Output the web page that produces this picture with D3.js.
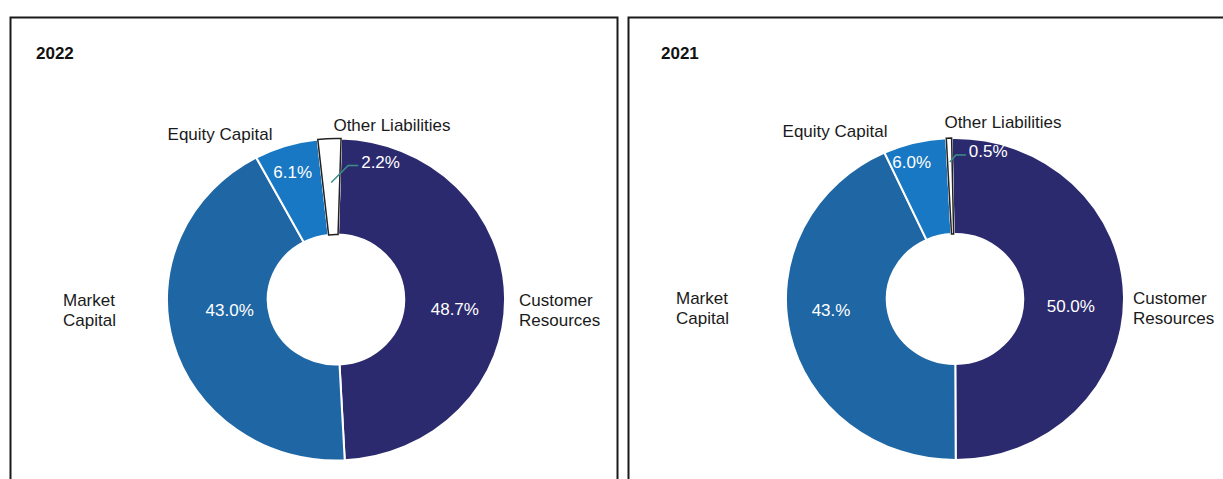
<!DOCTYPE html>
<html>
<head>
<meta charset="utf-8">
<script src="https://cdn.jsdelivr.net/npm/d3@7"></script>
<style>
    body { margin: 0; background: #fff; }
    svg { display: block; font-family: "Liberation Sans", Arial, sans-serif; }
</style>
</head>
<body>
<div class="canvas"></div>
<script>
// Data
const categories = ['Customer Resources', 'Market Capital', 'Equity Capital', 'Other Liabilities'];
const years = ['2022', '2021'];
const values2022 = [48.7, 43.0, 6.1, 2.2];
const values2021 = [50.0, 43.0, 6.0, 0.5];
const labels2022 = ['48.7%', '43.0%', '6.1%', '2.2%'];
const labels2021 = ['50.0%', '43.%', '6.0%', '0.5%'];
const colors = ['#2c2a6e', '#1f66a4', '#1878c3', '#ffffff'];

// Layout of each panel
const panels = [
    {
        year: years[0], values: values2022, labels: labels2022,
        box: [10.5, 17.5, 607, 480], titleX: 36, cx: 336, cy: 299.5, rot: 0.03,
        nudge: [[-4, 11], [12, -21], [-7, -16]],
        callout: { r: 117, bend: [17, -17], len: 10 },
        names: [[519, 300, 'start'], [63, 300, 'start'], [220, 134, 'middle'], [392, 125, 'middle']]
    },
    {
        year: years[1], values: values2021, labels: labels2021,
        box: [628.5, 17.5, 640, 480], titleX: 661, cx: 955, cy: 299, rot: -0.02,
        nudge: [[-7, 8], [-4, -14], [-14, -23]],
        callout: { r: 137, bend: [6, -7], len: 10 },
        names: [[1133, 298, 'start'], [676, 298, 'start'], [835, 131, 'middle'], [1003, 122, 'middle']]
    }
];

const dims = { width: 1223, height: 479, outer: 161, inner: 65, sx: 1.05, labelR: 117, font: 17 };

const svg = d3.select('.canvas')
    .append('svg')
    .attr('width', dims.width)
    .attr('height', dims.height);

const pie = d3.pie().sort(null).value(d => d);
const arc = d3.arc().innerRadius(dims.inner).outerRadius(dims.outer);

panels.forEach(p => {
    // Frame
    svg.append('rect')
        .attr('x', p.box[0]).attr('y', p.box[1])
        .attr('width', p.box[2]).attr('height', p.box[3])
        .attr('fill', 'none')
        .attr('stroke', '#1a1a1a')
        .attr('stroke-width', 2);

    svg.append('text')
        .attr('x', p.titleX)
        .attr('y', 59)
        .attr('font-size', 17)
        .attr('font-weight', 'bold')
        .attr('fill', '#111')
        .text(p.year);

    const arcs = pie.startAngle(p.rot).endAngle(p.rot + 2 * Math.PI)(p.values);

    // Donut, slightly stretched horizontally like the original
    const g = svg.append('g')
        .attr('transform', `translate(${p.cx}, ${p.cy}) scale(${dims.sx}, 1)`);

    g.selectAll('path')
        .data(arcs)
        .enter()
        .append('path')
            .attr('d', arc)
            .attr('fill', (d, i) => colors[i])
            .attr('stroke', '#fff')
            .attr('stroke-width', 2)
            .attr('vector-effect', 'non-scaling-stroke');

    // Outline the white slice
    g.append('path')
        .attr('d', arc(arcs[3]))
        .attr('fill', colors[3])
        .attr('stroke', '#222')
        .attr('stroke-width', 1.5)
        .attr('vector-effect', 'non-scaling-stroke');

    // Percent labels inside the ring
    const labelArc = d3.arc().innerRadius(dims.labelR).outerRadius(dims.labelR);
    arcs.slice(0, 3).forEach((d, i) => {
        const [x, y] = labelArc.centroid(d);
        svg.append('text')
            .attr('x', p.cx + x * dims.sx + p.nudge[i][0])
            .attr('y', p.cy + y + p.nudge[i][1])
            .attr('dy', '0.35em')
            .attr('text-anchor', 'middle')
            .attr('font-size', dims.font)
            .attr('fill', '#fff')
            .text(p.labels[i]);
    });

    // Callout for the thin slice
    const cArc = d3.arc().innerRadius(p.callout.r).outerRadius(p.callout.r);
    const [ox, oy] = cArc.centroid(arcs[3]);
    const x0 = p.cx + ox * dims.sx, y0 = p.cy + oy;
    const x1 = x0 + p.callout.bend[0], y1 = y0 + p.callout.bend[1];
    const x2 = x1 + p.callout.len;
    svg.append('path')
        .attr('d', d3.line()([[x0, y0], [x1, y1], [x2, y1]]))
        .attr('fill', 'none')
        .attr('stroke', '#3a9088')
        .attr('stroke-width', 1.5);
    svg.append('text')
        .attr('x', x2 + 3)
        .attr('y', y1 - 4)
        .attr('dy', '0.35em')
        .attr('font-size', dims.font)
        .attr('fill', '#fff')
        .text(p.labels[3]);

    // Category names
    p.names.forEach((n, i) => {
        const words = i < 2 ? categories[i].split(' ') : [categories[i]];
        const t = svg.append('text')
            .attr('x', n[0])
            .attr('y', n[1])
            .attr('text-anchor', n[2])
            .attr('font-size', dims.font)
            .attr('fill', '#1a1a1a');
        words.forEach((w, k) => {
            t.append('tspan')
                .attr('x', n[0])
                .attr('dy', k === 0 ? '0.35em' : '1.2em')
                .text(w);
        });
    });
});
</script>
</body>
</html>
